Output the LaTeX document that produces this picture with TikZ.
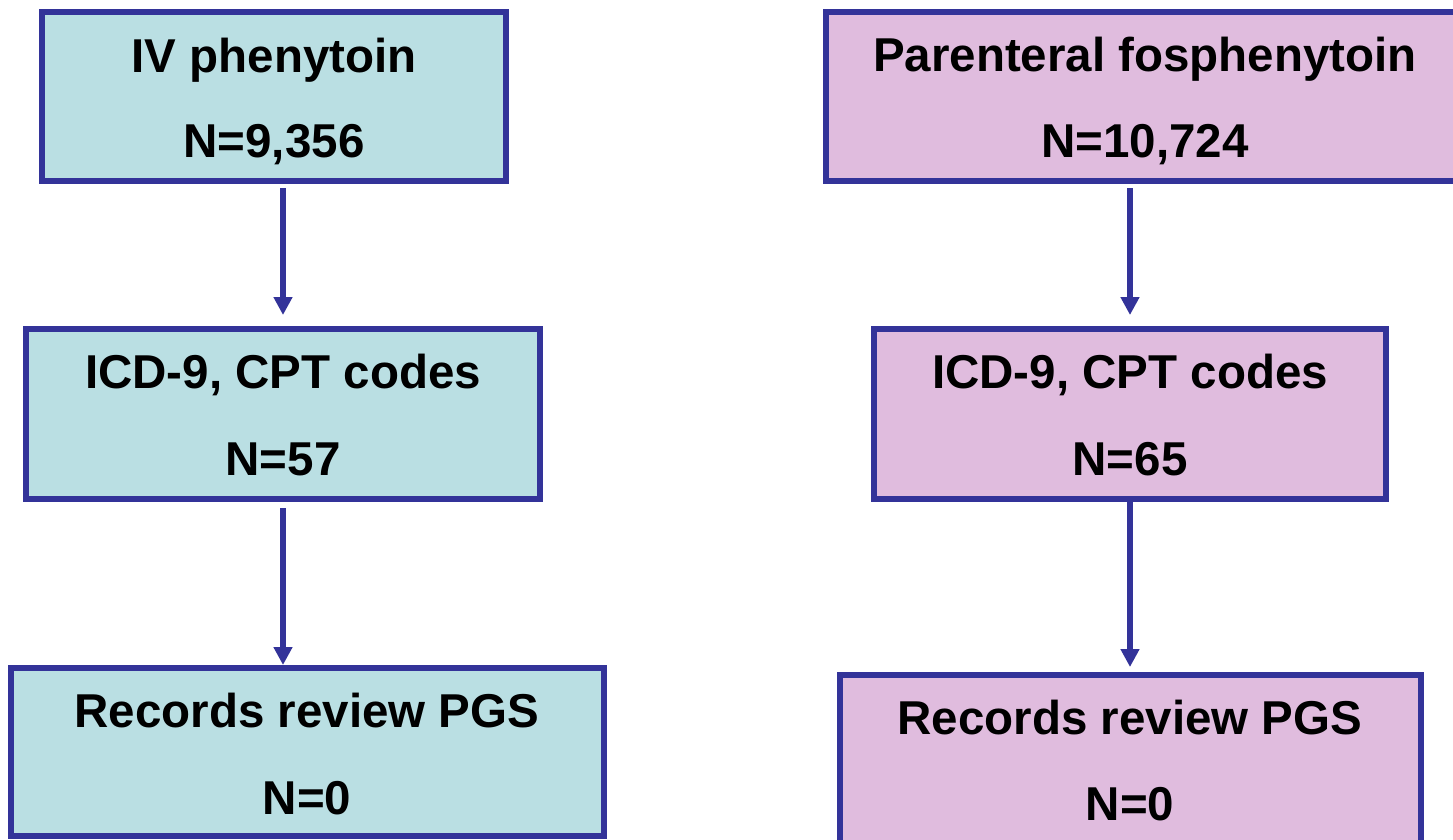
\documentclass[tikz,border=0pt]{standalone}
\usepackage{fontspec}
\setmainfont{Liberation Sans}
\usetikzlibrary{arrows.meta}
\definecolor{bordc}{RGB}{51,51,153}
\definecolor{tealf}{RGB}{186,223,227}
\definecolor{pinkf}{RGB}{224,188,222}
\tikzset{
  boxl/.style={draw=bordc, line width=6pt, fill=tealf, inner sep=0pt},
  boxr/.style={draw=bordc, line width=6pt, fill=pinkf, inner sep=0pt},
  lbl/.style={anchor=base, inner sep=0pt, font=\fontsize{47.5pt}{50pt}\selectfont\bfseries, text=black},
  arr/.style={draw=bordc, line width=6pt, -{Triangle[length=18pt,width=18pt]}}
}
\begin{document}
\begin{tikzpicture}[x=1pt, y=-1pt]
\clip (0,0) rectangle (1453,839);
\fill[white] (0,0) rectangle (1453,839);
% left column
\node[boxl, minimum width=464pt, minimum height=169pt] (l1) at (274,96.5) {};
\node[boxl, minimum width=514pt, minimum height=170pt] (l2) at (283,414) {};
\node[boxl, minimum width=593pt, minimum height=168pt] (l3) at (307.5,752) {};
% right column
\node[boxr, minimum width=634pt, minimum height=169pt] (r1) at (1143,96.5) {};
\node[boxr, minimum width=512pt, minimum height=170pt] (r2) at (1130,414) {};
\node[boxr, minimum width=581pt, minimum height=170pt] (r3) at (1130.5,760) {};
% texts
\node[lbl] (l1a) at (274,72) {IV phenytoin};
\node[lbl] (l1b) at (274,157) {N=9,356};
\node[lbl] (l2a) at (283,388) {ICD-9, CPT codes};
\node[lbl] (l2b) at (283,475) {N=57};
\node[lbl] (l3a) at (307,727) {Records review PGS};
\node[lbl] (l3b) at (307,814) {N=0};
\node[lbl] (r1a) at (1145,71) {Parenteral fosphenytoin};
\node[lbl] (r1b) at (1145,157) {N=10,724};
\node[lbl] (r2a) at (1130,388) {ICD-9, CPT codes};
\node[lbl] (r2b) at (1130,475) {N=65};
\node[lbl] (r3a) at (1130,734) {Records review PGS};
\node[lbl] (r3b) at (1130,820) {N=0};
% arrows
\draw[arr] ([shift={(9,4)}]l1.south) -- ([shift={(0,-11)}]l2.north);
\draw[arr] ([shift={(0,6)}]l2.south) -- ([shift={(-24.5,0)}]l3.north);
\draw[arr] ([shift={(-13,4)}]r1.south) -- ([shift={(0,-11)}]r2.north);
\draw[arr] (r2.south) -- ([shift={(-0.5,-5)}]r3.north);
\end{tikzpicture}
\end{document}
